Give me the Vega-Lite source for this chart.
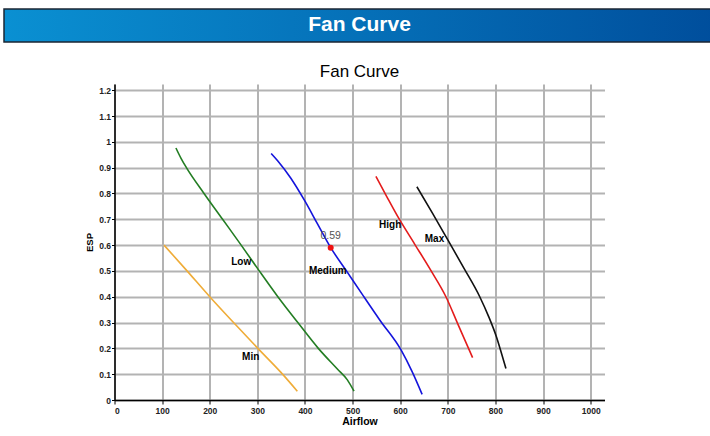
{
  "$schema": "https://vega.github.io/schema/vega-lite/v6.json",
  "padding": {"left": 3, "top": 8, "right": 0, "bottom": 0},
  "background": "white",
  "config": {"view": {"stroke": null}, "font": "Liberation Sans"},
  "datasets": {
    "curves": [
      {"series": "Min", "airflow": 104, "esp": 0.6},
      {"series": "Min", "airflow": 150, "esp": 0.505},
      {"series": "Min", "airflow": 200, "esp": 0.4},
      {"series": "Min", "airflow": 250, "esp": 0.3},
      {"series": "Min", "airflow": 301, "esp": 0.2},
      {"series": "Min", "airflow": 350, "esp": 0.106},
      {"series": "Min", "airflow": 384, "esp": 0.034},
      {"series": "Low", "airflow": 129, "esp": 0.976},
      {"series": "Low", "airflow": 140, "esp": 0.935},
      {"series": "Low", "airflow": 151, "esp": 0.9},
      {"series": "Low", "airflow": 188, "esp": 0.8},
      {"series": "Low", "airflow": 227, "esp": 0.7},
      {"series": "Low", "airflow": 266, "esp": 0.6},
      {"series": "Low", "airflow": 304, "esp": 0.5},
      {"series": "Low", "airflow": 343, "esp": 0.4},
      {"series": "Low", "airflow": 385, "esp": 0.3},
      {"series": "Low", "airflow": 428, "esp": 0.2},
      {"series": "Low", "airflow": 468, "esp": 0.12},
      {"series": "Low", "airflow": 489, "esp": 0.078},
      {"series": "Low", "airflow": 503, "esp": 0.034},
      {"series": "Medium", "airflow": 329, "esp": 0.955},
      {"series": "Medium", "airflow": 343, "esp": 0.926},
      {"series": "Medium", "airflow": 370, "esp": 0.86},
      {"series": "Medium", "airflow": 400, "esp": 0.77},
      {"series": "Medium", "airflow": 426, "esp": 0.683},
      {"series": "Medium", "airflow": 454, "esp": 0.59},
      {"series": "Medium", "airflow": 486, "esp": 0.503},
      {"series": "Medium", "airflow": 520, "esp": 0.41},
      {"series": "Medium", "airflow": 557, "esp": 0.31},
      {"series": "Medium", "airflow": 602, "esp": 0.193},
      {"series": "Medium", "airflow": 625, "esp": 0.11},
      {"series": "Medium", "airflow": 646, "esp": 0.022},
      {"series": "High", "airflow": 549, "esp": 0.866},
      {"series": "High", "airflow": 572, "esp": 0.787},
      {"series": "High", "airflow": 595, "esp": 0.71},
      {"series": "High", "airflow": 630, "esp": 0.605},
      {"series": "High", "airflow": 664, "esp": 0.503},
      {"series": "High", "airflow": 696, "esp": 0.4},
      {"series": "High", "airflow": 722, "esp": 0.29},
      {"series": "High", "airflow": 752, "esp": 0.164},
      {"series": "Max", "airflow": 635, "esp": 0.826},
      {"series": "Max", "airflow": 668, "esp": 0.723},
      {"series": "Max", "airflow": 700, "esp": 0.62},
      {"series": "Max", "airflow": 734, "esp": 0.51},
      {"series": "Max", "airflow": 767, "esp": 0.4},
      {"series": "Max", "airflow": 786, "esp": 0.322},
      {"series": "Max", "airflow": 802, "esp": 0.245},
      {"series": "Max", "airflow": 812, "esp": 0.185},
      {"series": "Max", "airflow": 822, "esp": 0.122}
    ],
    "labels": [
      {"label": "Min", "airflow": 286, "esp": 0.167},
      {"label": "Low", "airflow": 266, "esp": 0.533},
      {"label": "Medium", "airflow": 448, "esp": 0.5},
      {"label": "High", "airflow": 579, "esp": 0.677},
      {"label": "Max", "airflow": 672, "esp": 0.623}
    ],
    "point": [
      {"airflow": 454, "esp": 0.59, "text": "0.59"}
    ],
    "header": [
      {"t": "Fan Curve"}
    ]
  },
  "vconcat": [
    {
      "width": 711,
      "height": 33,
      "data": {"name": "header"},
      "layer": [
        {
          "mark": {
            "type": "rect",
            "stroke": "#1b2633",
            "strokeWidth": 1.5,
            "fill": {
              "gradient": "linear",
              "x1": 0, "y1": 0, "x2": 1, "y2": 0,
              "stops": [
                {"offset": 0, "color": "#0a90d2"},
                {"offset": 0.5, "color": "#0570b8"},
                {"offset": 1, "color": "#004e9c"}
              ]
            }
          },
          "encoding": {}
        },
        {
          "mark": {
            "type": "text",
            "color": "white",
            "fontSize": 21,
            "fontWeight": "bold",
            "font": "Liberation Sans",
            "align": "center",
            "baseline": "middle",
            "dx": 0,
            "dy": -1
          },
          "encoding": {"text": {"field": "t"}}
        }
      ]
    },
    {
      "width": 490,
      "height": 316,
      "title": {
        "text": "Fan Curve",
        "fontSize": 17,
        "fontWeight": "normal",
        "font": "Liberation Sans",
        "color": "black",
        "offset": 3
      },
      "layer": [
        {
          "data": {"name": "curves"},
          "mark": {"type": "line", "strokeWidth": 1.6, "interpolate": "monotone"},
          "encoding": {
            "x": {
              "field": "airflow",
              "type": "quantitative",
              "scale": {"domain": [0, 1029], "nice": false, "zero": false},
              "axis": {
                "title": "Airflow",
                "values": [0, 100, 200, 300, 400, 500, 600, 700, 800, 900, 1000],
                "tickCount": 20,
                "format": "d",
                "labelOverlap": false,
                "grid": true,
                "gridColor": "#b3b3b3",
                "gridWidth": 2,
                "domainColor": "black",
                "domainWidth": 1.5,
                "tickColor": "black",
                "tickSize": 4,
                "tickWidth": 1,
                "labelFont": "Liberation Sans",
                "labelFontSize": 8.5,
                "labelFontWeight": "bold",
                "labelColor": "#222",
                "labelPadding": 2,
                "titleFont": "Liberation Sans",
                "titleFontSize": 10.5,
                "titleFontWeight": "bold",
                "titleColor": "black",
                "titlePadding": 2
              }
            },
            "y": {
              "field": "esp",
              "type": "quantitative",
              "scale": {"domain": [0, 1.224], "nice": false},
              "axis": {
                "title": "ESP",
                "values": [0, 0.1, 0.2, 0.3, 0.4, 0.5, 0.6, 0.7, 0.8, 0.9, 1, 1.1, 1.2],
                "tickCount": 20,
                "format": "~g",
                "labelOverlap": false,
                "grid": true,
                "gridColor": "#b3b3b3",
                "gridWidth": 2,
                "domainColor": "black",
                "domainWidth": 1.5,
                "tickColor": "black",
                "tickSize": 3,
                "labelFont": "Liberation Sans",
                "labelFontSize": 8.5,
                "labelFontWeight": "bold",
                "labelColor": "#222",
                "labelPadding": 1,
                "titleFont": "Liberation Sans",
                "titleFontSize": 9.5,
                "titleFontWeight": "bold",
                "titleColor": "black",
                "titlePadding": 4
              }
            },
            "color": {
              "field": "series",
              "type": "nominal",
              "scale": {
                "domain": ["Min", "Low", "Medium", "High", "Max"],
                "range": ["#efac38", "#237d23", "#1414dc", "#e41c1c", "#111111"]
              },
              "legend": null
            },
            "detail": {"field": "series"}
          }
        },
        {
          "data": {"name": "labels"},
          "mark": {"type": "text", "fontSize": 10, "fontWeight": "bold", "font": "Liberation Sans", "color": "black", "align": "center", "baseline": "middle"},
          "encoding": {
            "x": {"field": "airflow", "type": "quantitative"},
            "y": {"field": "esp", "type": "quantitative"},
            "text": {"field": "label"}
          }
        },
        {
          "data": {"name": "point"},
          "mark": {"type": "circle", "color": "#ee1111", "size": 36, "opacity": 1},
          "encoding": {
            "x": {"field": "airflow", "type": "quantitative"},
            "y": {"field": "esp", "type": "quantitative"}
          }
        },
        {
          "data": {"name": "point"},
          "mark": {"type": "text", "fontSize": 10.5, "font": "Liberation Sans", "color": "#555555", "align": "center", "baseline": "middle", "dy": -12},
          "encoding": {
            "x": {"field": "airflow", "type": "quantitative"},
            "y": {"field": "esp", "type": "quantitative"},
            "text": {"field": "text"}
          }
        }
      ]
    }
  ],
  "center": true,
  "bounds": "flush",
  "spacing": 42
}
